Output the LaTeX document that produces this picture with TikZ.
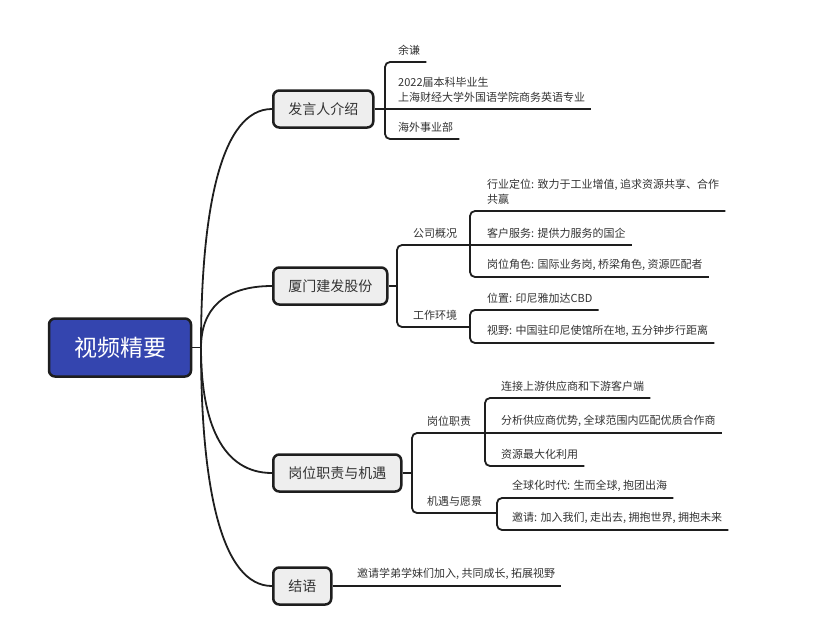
\documentclass[tikz,border=0pt]{standalone}
\usepackage{fontspec}
\setmainfont{Noto Sans CJK SC}
\usetikzlibrary{calc}
\definecolor{rootblue}{HTML}{3445AF}
\definecolor{topicgray}{HTML}{EEEEEE}
\definecolor{linedark}{HTML}{1E1E1E}
\tikzset{
	rootbox/.style={draw=linedark, line width=2.5pt, fill=rootblue, rounded corners=6pt, text=white,
		font=\fontsize{23}{28}\selectfont, minimum width=142pt, minimum height=58pt},
	topic/.style={draw=linedark, line width=2.5pt, fill=topicgray, rounded corners=6pt, text=black!80,
		font=\fontsize{14}{17}\selectfont, inner xsep=15pt, minimum height=37pt, anchor=west},
	leaf/.style={anchor=south west, inner xsep=6pt, inner ysep=6.5pt, align=left, text=black!80,
		font=\fontsize{11}{15}\selectfont},
	branch/.style={draw=linedark, line width=1.8pt},
	bracket/.style={branch, rounded corners=5pt},
}
\begin{document}
\begin{tikzpicture}[x=1pt,y=-1pt]
	%\draw[lightgray] (0,0) grid[step=50] (830,643);
	\useasboundingbox (0,0) rectangle (830,643);
	\node[rootbox] (root) at (120,347.5) {视频精要};
	\coordinate (hub) at (201,347.5);
	\node[topic] (t1) at (272,109) {发言人介绍};
	\node[topic] (t2) at (272,286) {厦门建发股份};
	\node[topic] (t3) at (272,473) {岗位职责与机遇};
	\node[topic] (t4) at (272,586) {结语};
	\draw[branch] (root.east) -- (hub);
	\foreach \t in {t1,t2,t3,t4}
		\draw[branch] (hub) .. controls ($(hub)!.6!(hub |- \t.west)$) and ($(\t.west)!.7!(hub |- \t.west)$) .. (\t.west);

	% speaker
	\coordinate (b1) at (385,109);
	\node[leaf] (l11) at (392,62) {余谦};
	\node[leaf] (l12) at (392,109) {2022届本科毕业生\\上海财经大学外国语学院商务英语专业};
	\node[leaf] (l13) at (392,139) {海外事业部};
	\draw[branch] (t1.east) -- (l12.south east);
	\draw[bracket] (l11.south east) -| (b1) |- (l13.south east);

	% company
	\coordinate (b2) at (397,286);
	\coordinate (b21) at (470,245);
	\coordinate (b22) at (470,327);
	\node[leaf] (s21) at (407,245) {公司概况};
	\node[leaf] (s22) at (407,327) {工作环境};
	\node[leaf] (l21) at (481,211) {行业定位: 致力于工业增值, 追求资源共享、合作\\共赢};
	\node[leaf] (l22) at (481,245) {客户服务: 提供力服务的国企};
	\node[leaf] (l23) at (481,277) {岗位角色: 国际业务岗, 桥梁角色, 资源匹配者};
	\node[leaf] (l24) at (481,310) {位置: 印尼雅加达CBD};
	\node[leaf] (l25) at (481,343) {视野: 中国驻印尼使馆所在地, 五分钟步行距离};
	\draw[branch] (t2.east) -- (b2);
	\draw[bracket] (l22.south east) -| (b2) |- (b22);
	\draw[bracket] (l21.south east) -| (b21) |- (l23.south east);
	\draw[bracket] (l24.south east) -| (b22) |- (l25.south east);

	% duties
	\coordinate (b3) at (412,473);
	\coordinate (b31) at (485,433);
	\coordinate (b32) at (497,513);
	\node[leaf] (s31) at (421,433) {岗位职责};
	\node[leaf] (s32) at (421,513) {机遇与愿景};
	\node[leaf] (l31) at (495,398) {连接上游供应商和下游客户端};
	\node[leaf] (l32) at (495,433) {分析供应商优势, 全球范围内匹配优质合作商};
	\node[leaf] (l33) at (495,466) {资源最大化利用};
	\node[leaf] (l34) at (506,498) {全球化时代: 生而全球, 抱团出海};
	\node[leaf] (l35) at (506,530) {邀请: 加入我们, 走出去, 拥抱世界, 拥抱未来};
	\draw[branch] (t3.east) -- (b3);
	\draw[bracket] (l32.south east) -| (b3) |- (b32);
	\draw[bracket] (l31.south east) -| (b31) |- (l33.south east);
	\draw[bracket] (l34.south east) -| (b32) |- (l35.south east);

	% closing
	\node[leaf] (l41) at (351,586) {邀请学弟学妹们加入, 共同成长, 拓展视野};
	\draw[branch] (t4.east) -- (l41.south east);
\end{tikzpicture}
\end{document}
